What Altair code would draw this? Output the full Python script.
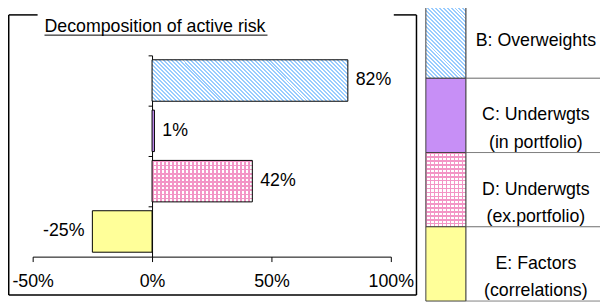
import altair as alt
import pandas as pd

# ---- data ----
categories = ["B", "C", "D", "E"]
values = [0.82, 0.01, 0.42, -0.25]
legend_labels = [
    "B: Overweights",
    "C: Underwgts\n(in portfolio)",
    "D: Underwgts\n(ex.portfolio)",
    "E: Factors\n(correlations)",
]
x_ticks = [-0.5, 0.0, 0.5, 1.0]
title_text = "Decomposition of active risk"

FONT = "Liberation Sans"
FS = 18

bars_df = pd.DataFrame({"cat": categories, "value": values})
legend_df = pd.DataFrame({"cat": categories, "label": legend_labels})

# ---- geometry (view pixels) ----
X_RANGE = [25, 388]
Y_RANGE = [46, 250]
LEG_RANGE = [-6, 295]
PX_PER_UNIT = (X_RANGE[1] - X_RANGE[0]) / 1.5
BAR_H = 42.0
SW_X0, SW_X1 = 423.5, 464.0
SW_H = (LEG_RANGE[1] - LEG_RANGE[0]) / 4

BLUE = "#99ccff"
PINK = "#f395c6"
PURPLE = "#c78ff6"
YELLOW = "#ffff99"
CLEAR = "rgba(255,255,255,0)"


def stripe_stops(color, back, frac, n):
    stops = []
    for k in range(n):
        t0 = k / n
        t1 = (k + frac) / n
        t2 = (k + 1) / n
        stops += [
            alt.GradientStop(color=color, offset=t0),
            alt.GradientStop(color=color, offset=t1),
            alt.GradientStop(color=back, offset=t1),
            alt.GradientStop(color=back, offset=t2),
        ]
    return stops


def diag(w, h, period, color, back="white", frac=0.5):
    b = h / w
    c = (1 + b) / (1 + b * b)
    n = max(1, round(w * (1 + b) / period))
    return alt.LinearGradient(
        gradient="linear", stops=stripe_stops(color, back, frac, n),
        x1=0, y1=1, x2=c, y2=1 - c * b,
    )


def vlines(w, period, color, frac=0.4):
    n = max(1, round(w / period))
    return alt.LinearGradient(gradient="linear", stops=stripe_stops(color, CLEAR, frac, n),
                              x1=0, y1=0, x2=1, y2=0)


def hlines(h, period, color, frac=0.4):
    n = max(1, round(h / period))
    return alt.LinearGradient(gradient="linear", stops=stripe_stops(color, CLEAR, frac, n),
                              x1=0, y1=0, x2=0, y2=1)


def bar_w(cat):
    return abs(values[categories.index(cat)]) * PX_PER_UNIT


x_scale = alt.Scale(domain=[-0.5, 1.0], range=X_RANGE, nice=False)
y_scale = alt.Scale(domain=categories, range=Y_RANGE, paddingInner=0.176, paddingOuter=0.088)
leg_scale = alt.Scale(domain=categories, range=LEG_RANGE, paddingInner=0, paddingOuter=0)

x_axis = alt.Axis(values=x_ticks, format=".0%", title=None, grid=False, tickSize=5,
                  offset=-45, labelPadding=11, labelFont=FONT, labelFontSize=FS,
                  labelColor="black", domainColor="black", tickColor="black",
                  domainWidth=1, tickWidth=1, labelFlush=False, labelOverlap=False,
                  labelBound=False,
                  labelExpr="replace(datum.label, '\u2212', '-')")
y_axis = alt.Axis(title=None, labels=False, grid=False, tickSize=4, bandPosition=0,
                  tickOffset=-4.5, offset=-146, domainColor="black", tickColor="black",
                  domainWidth=1, tickWidth=1)

base = alt.Chart(bars_df).transform_calculate(
    lbl="replace(format(datum.value, '.0%'), '\u2212', '-')"
)

X_ENC = alt.X("value:Q", scale=x_scale, axis=x_axis)
Y_ENC = alt.Y("cat:N", scale=y_scale, axis=y_axis)


def bar_layer(cat, fill, stroke=True):
    kw = dict(fill=fill)
    if stroke:
        kw.update(stroke="black", strokeWidth=1)
    else:
        kw.update(strokeWidth=0)
    return base.transform_filter(alt.datum.cat == cat).mark_bar(**kw).encode(
        x=X_ENC, y=Y_ENC,
    )


wB, wD = bar_w("B"), bar_w("D")
main_layers = [
    bar_layer("B", diag(wB, BAR_H, 4.0, BLUE)),
    bar_layer("C", PURPLE),
    bar_layer("D", "white", stroke=False),
    bar_layer("D", vlines(wD, 4.0, PINK), stroke=False),
    bar_layer("D", hlines(BAR_H, 4.0, PINK)),
    bar_layer("E", YELLOW),
]

pos_text = base.transform_filter(alt.datum.value >= 0).mark_text(
    align="left", baseline="middle", dx=8, font=FONT, fontSize=FS, color="black"
).encode(x=X_ENC, y=Y_ENC, text="lbl:N")
neg_text = base.transform_filter(alt.datum.value < 0).mark_text(
    align="right", baseline="middle", dx=-8, font=FONT, fontSize=FS, color="black"
).encode(x=X_ENC, y=Y_ENC, text="lbl:N")

main = alt.layer(*main_layers, pos_text, neg_text)

# ---- legend table ----
lbase = alt.Chart(legend_df)
LEG_Y = alt.Y("cat:N", scale=leg_scale, axis=None)


def sw_layer(cat, fill, stroke=True):
    kw = dict(fill=fill)
    if stroke:
        kw.update(stroke="#404040", strokeWidth=1)
    else:
        kw.update(strokeWidth=0)
    return lbase.transform_filter(alt.datum.cat == cat).mark_rect(**kw).encode(
        x=alt.value(SW_X0), x2=alt.value(SW_X1), y=LEG_Y,
    )


sw_w = SW_X1 - SW_X0
row_lines = lbase.mark_rect(fill="white", stroke="#808080", strokeWidth=1).encode(
    x=alt.value(SW_X1), x2=alt.value(640), y=LEG_Y,
)
legend_layers = [
    row_lines,
    sw_layer("B", diag(sw_w, SW_H, 4.0, BLUE)),
    sw_layer("C", PURPLE),
    sw_layer("D", "white", stroke=False),
    sw_layer("D", vlines(sw_w, 4.0, PINK), stroke=False),
    sw_layer("D", hlines(SW_H, 4.0, PINK)),
    sw_layer("E", YELLOW),
]
legend_text = lbase.mark_text(
    align="center", baseline="middle", lineBreak="\n", lineHeight=28,
    font=FONT, fontSize=FS, color="black"
).encode(x=alt.value(535), y=LEG_Y, text="label:N")
legend = alt.layer(*legend_layers, legend_text)

# ---- frame and title ----
one = alt.Data(values=[{"k": 1}])


def hrule(x0, x1, y, color="black", w=1.5):
    return alt.Chart(one).mark_rule(color=color, strokeWidth=w).encode(
        x=alt.value(x0), x2=alt.value(x1), y=alt.value(y))


def vrule(x, y0, y1, color="black", w=1.5):
    return alt.Chart(one).mark_rule(color=color, strokeWidth=w).encode(
        x=alt.value(x), y=alt.value(y0), y2=alt.value(y1))


frame = [
    vrule(0.75, 5, 289),
    vrule(414, 5, 289),
    hrule(0.75, 414, 289),
    hrule(0.75, 30, 5),
    hrule(391, 414, 5),
]
title = alt.Chart(one).mark_text(
    align="left", baseline="alphabetic", font=FONT, fontSize=FS, color="black"
).encode(x=alt.value(37), y=alt.value(22.5), text=alt.value(title_text))
underline = hrule(37, 263, 25.5, w=1)

chart = alt.layer(main, legend, *frame, title, underline).resolve_scale(
    y="independent"
).properties(
    width=600, height=295, padding=0,
    autosize=alt.AutoSizeParams(type="none"),
).configure_view(stroke=None)

chart.save("out.html", embed_options={"renderer": "svg", "actions": False})
